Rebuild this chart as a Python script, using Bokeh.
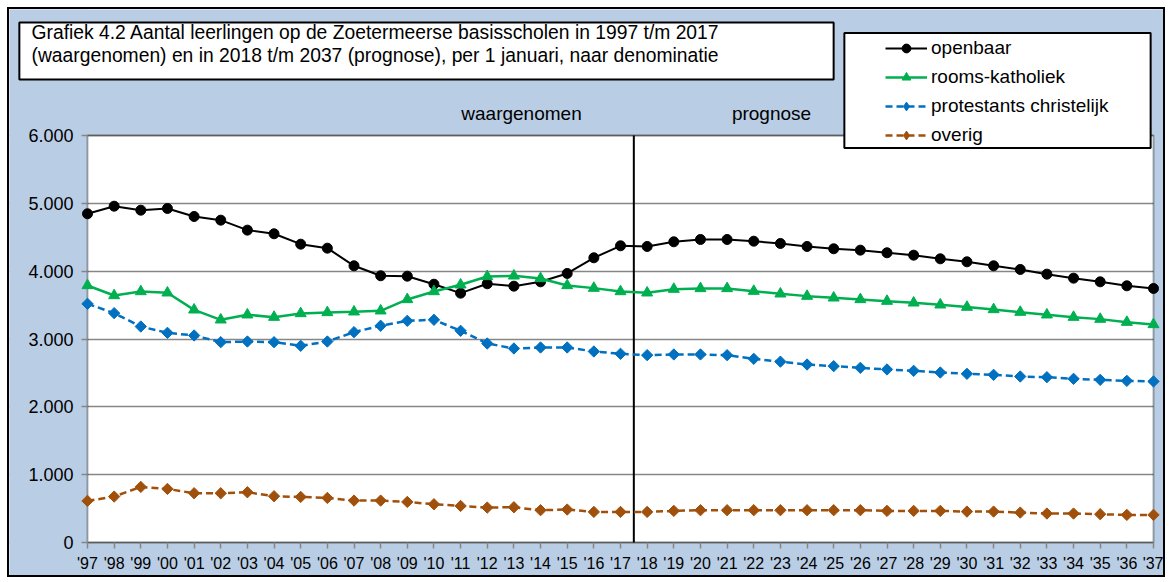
import math
from bokeh.plotting import figure
from bokeh.models import Range1d, FixedTicker, Label, Legend, LegendItem, BoxAnnotation
from bokeh.embed import file_html
from bokeh.resources import INLINE

# ---------------- data ----------------
years = list(range(1997, 2038))
year_labels = ["'97", "'98", "'99", "'00", "'01", "'02", "'03", "'04", "'05", "'06",
               "'07", "'08", "'09", "'10", "'11", "'12", "'13", "'14", "'15", "'16",
               "'17", "'18", "'19", "'20", "'21", "'22", "'23", "'24", "'25", "'26",
               "'27", "'28", "'29", "'30", "'31", "'32", "'33", "'34", "'35", "'36", "'37"]
y_ticks = [0, 1000, 2000, 3000, 4000, 5000, 6000]
y_tick_labels = ["0", "1.000", "2.000", "3.000", "4.000", "5.000", "6.000"]

openbaar = [4846, 4958, 4899, 4924, 4806, 4752, 4605, 4551, 4398, 4339, 4079, 3932,
            3926, 3808, 3676, 3814, 3779, 3843, 3966, 4197, 4374, 4364, 4433, 4467,
            4467, 4442, 4408, 4364, 4330, 4310, 4271, 4236, 4182, 4138, 4079, 4025,
            3956, 3897, 3843, 3784, 3745]
rooms_katholiek = [3789, 3641, 3700, 3681, 3430, 3283, 3357, 3322, 3376, 3391, 3401, 3416,
                   3583, 3700, 3799, 3922, 3931, 3892, 3789, 3750, 3700, 3681, 3735, 3745,
                   3745, 3705, 3666, 3632, 3607, 3583, 3558, 3533, 3504, 3470, 3435, 3396,
                   3357, 3322, 3293, 3248, 3214]
protestants_christelijk = [3519, 3381, 3184, 3091, 3052, 2953, 2963, 2953, 2900, 2963, 3101, 3195,
                           3268, 3283, 3121, 2934, 2860, 2875, 2875, 2816, 2782, 2762, 2772, 2772,
                           2762, 2708, 2666, 2624, 2600, 2575, 2551, 2531, 2506, 2487, 2472, 2447,
                           2437, 2413, 2398, 2383, 2374]
overig = [613, 677, 819, 790, 726, 726, 741, 682, 672, 657, 618, 618,
          598, 564, 539, 515, 520, 476, 486, 451, 451, 451, 466, 476,
          476, 476, 476, 476, 476, 476, 466, 466, 466, 456, 456, 441,
          427, 427, 417, 407, 407]

series_names = ["openbaar", "rooms-katholiek", "protestants christelijk", "overig"]
last_observed_year = 2017
first_forecast_year = 2018
period_labels = ["waargenomen", "prognose"]
title_text = ("Grafiek 4.2  Aantal leerlingen op de Zoetermeerse basisscholen in 1997 t/m 2017\n"
              "(waargenomen) en in 2018 t/m 2037 (prognose), per 1 januari, naar denominatie")

# ---------------- layout (pixels) ----------------
FONT = "Liberation Sans"
BLUE_BG = "#B9CDE5"
GRID = "#868686"
FRAME_W, FRAME_H = 1158, 570        # drawing frame = whole canvas
PLOT_LEFT_PX = 78                    # plot area left edge, from frame left
PLOT_RIGHT_PX = 14                   # plot area right edge, from frame right
PLOT_TOP_PX = 126                    # 6.000 line, from frame top
PLOT_BOTTOM_PX = 37                  # 0 line, from frame bottom
px_per_year = (FRAME_W - PLOT_LEFT_PX - PLOT_RIGHT_PX) / (years[-1] - years[0])
x_start = years[0] - PLOT_LEFT_PX / px_per_year
x_end = years[-1] + PLOT_RIGHT_PX / px_per_year
units_per_px = (y_ticks[-1] - y_ticks[0]) / (FRAME_H - PLOT_TOP_PX - PLOT_BOTTOM_PX)
y_start = y_ticks[0] - PLOT_BOTTOM_PX * units_per_px
y_end = y_ticks[-1] + PLOT_TOP_PX * units_per_px

p = figure(width=FRAME_W, height=FRAME_H, x_range=Range1d(x_start, x_end),
           y_range=Range1d(y_start, y_end),
           output_backend="svg", toolbar_location=None, title=None,
           min_border=0, min_border_left=0, min_border_right=0, min_border_top=0,
           min_border_bottom=0,
           background_fill_color=BLUE_BG, border_fill_color=BLUE_BG)
p.margin = (7, 0, 0, 7)
p.styles = {"border": "2px solid black"}
p.outline_line_color = None

# white plot area (below grid)
p.add_layout(BoxAnnotation(left=years[0], right=years[-1], bottom=y_ticks[0], top=y_ticks[-1],
                           fill_color="white", fill_alpha=1, line_color=None, level="image"))

p.xgrid.visible = False
p.ygrid.grid_line_color = GRID
p.ygrid.grid_line_width = 1.5

# blue strips left and right of the plot area hide the grid there
p.add_layout(BoxAnnotation(right=years[0], fill_color=BLUE_BG, fill_alpha=1, line_color=None,
                           level="underlay"))
p.add_layout(BoxAnnotation(left=years[-1], fill_color=BLUE_BG, fill_alpha=1, line_color=None,
                           level="underlay"))
# plot-area border
p.add_layout(BoxAnnotation(left=years[0], right=years[-1], bottom=y_ticks[0], top=y_ticks[-1],
                           fill_alpha=0, line_color="black", line_width=2, level="underlay"))

p.xaxis.ticker = FixedTicker(ticks=years)
p.xaxis.major_label_overrides = {y: lab for y, lab in zip(years, year_labels)}
p.xaxis.fixed_location = y_ticks[0]
p.yaxis.ticker = FixedTicker(ticks=y_ticks)
p.yaxis.major_label_overrides = {v: lab for v, lab in zip(y_ticks, y_tick_labels)}
p.yaxis.fixed_location = years[0]

for ax in (p.xaxis[0], p.yaxis[0]):
    ax.axis_line_color = None
    ax.major_tick_line_color = GRID
    ax.major_tick_line_width = 1.5
    ax.major_tick_out = 6
    ax.major_tick_in = 0
    ax.minor_tick_line_color = None
    ax.major_label_text_font = FONT
    ax.major_label_text_color = "black"
p.xaxis.major_label_text_font_size = "16px"
p.xaxis.major_label_standoff = 6
p.yaxis.major_label_text_font_size = "18px"
p.yaxis.major_label_standoff = 8

# divider between observed and forecast
split_x = (last_observed_year + first_forecast_year) / 2
p.segment(x0=[split_x], y0=[y_ticks[0]], x1=[split_x], y1=[y_ticks[-1]],
          line_color="black", line_width=2)

# series
DIAMOND = math.pi / 4
C_OPEN, C_RK, C_PC, C_OV = "black", "#00B050", "#0070C0", "#A0500B"
l1 = p.line(years, openbaar, line_color=C_OPEN, line_width=2)
s1 = p.scatter(years, openbaar, marker="circle", size=10, fill_color=C_OPEN, line_color=C_OPEN)
l2 = p.line(years, rooms_katholiek, line_color=C_RK, line_width=2.5)
s2 = p.scatter(years, rooms_katholiek, marker="triangle", size=11, fill_color=C_RK, line_color=C_RK)
l3 = p.line(years, protestants_christelijk, line_color=C_PC, line_width=2.5, line_dash="7 4")
d3 = p.scatter(years, protestants_christelijk, marker="diamond", size=7, fill_color=C_PC, line_color=C_PC)
s3 = p.scatter(years, protestants_christelijk, marker="square", angle=DIAMOND, size=8,
               fill_color=C_PC, line_color=C_PC)
l4 = p.line(years, overig, line_color=C_OV, line_width=2.5, line_dash="7 4")
d4 = p.scatter(years, overig, marker="diamond", size=7, fill_color=C_OV, line_color=C_OV)
s4 = p.scatter(years, overig, marker="square", angle=DIAMOND, size=8,
               fill_color=C_OV, line_color=C_OV)

# period labels above the plot area
for txt, sx in zip(period_labels, [512, 762]):
    p.add_layout(Label(x=sx, y=466, x_units="screen", y_units="screen", text=txt,
                       text_align="center", text_baseline="middle", text_font=FONT,
                       text_font_size="19px", text_color="black"))

# title box + text
p.add_layout(Label(x=417, y=528.5, x_units="screen", y_units="screen", text=" ",
                   text_font_size="1px", text_align="center", text_baseline="middle",
                   background_fill_color="white", border_line_color="black", border_line_width=2,
                   padding=dict(left=407, right=407, top=28, bottom=28)))
p.add_layout(Label(x=22, y=535.5, x_units="screen", y_units="screen", text=title_text,
                   text_align="left", text_baseline="middle", text_font=FONT,
                   text_font_size="19.3px", text_color="black", text_line_height=1.05))

# legend box + legend
p.add_layout(Label(x=988, y=489, x_units="screen", y_units="screen", text=" ",
                   text_font_size="1px", text_align="center", text_baseline="middle",
                   background_fill_color="white", border_line_color="black", border_line_width=2,
                   padding=dict(left=153, right=153, top=57, bottom=57)))

legend = Legend(items=[LegendItem(label=n, renderers=r) for n, r in
                       zip(series_names, [[l1, s1], [l2, s2], [l3, d3], [l4, d4]])],
                location=(876, 433), padding=0, margin=0, spacing=7,
                label_height=22, glyph_height=22, glyph_width=42, label_standoff=4,
                border_line_color=None, background_fill_alpha=0,
                label_text_font=FONT, label_text_font_size="19px", label_text_color="black")
p.add_layout(legend, "center")

open("out.html", "w").write(file_html(p, INLINE))
